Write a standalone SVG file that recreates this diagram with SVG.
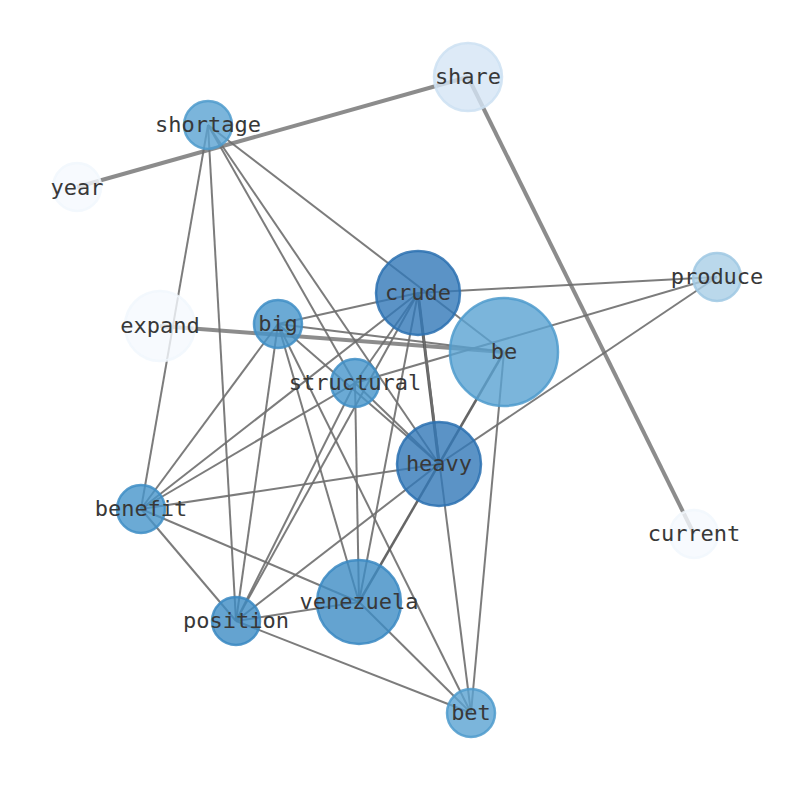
<svg xmlns="http://www.w3.org/2000/svg" width="794" height="790" viewBox="0 0 794 790">
<style>
.e{stroke:#6e6e6e;stroke-width:2;stroke-opacity:0.9;fill:none}
.t{stroke:#808080;stroke-width:4}
.d{stroke:#505050;stroke-width:3}
.m{stroke:#555555;stroke-width:2.5}
.n{stroke-width:2.5;fill-opacity:0.8;stroke-opacity:0.85}
.c1{fill:#3278b8;stroke:#2a70b0}
.c2{fill:#3d8cc4;stroke:#3a88c2}
.c3{fill:#4695ca;stroke:#3f8ec6}
.c4{fill:#5aa3d2;stroke:#4f9bcd}
.c5{fill:#a9cee6;stroke:#9fc8e3}
.c6{fill:#d4e5f5;stroke:#cde0f2}
.c7{fill:#f5f9fe;stroke:#f1f7fd}
text{font-family:"DejaVu Sans Mono","Liberation Mono",monospace;font-size:22px;fill:#383838;text-anchor:middle;dominant-baseline:central}
</style>
<rect width="794" height="790" fill="#fff"/>
<g id="edges">
<line class="e t" x1="77" y1="187" x2="468" y2="77"/>
<line class="e t" x1="468" y1="77" x2="694" y2="534"/>
<line class="e t" x1="160" y1="326" x2="504" y2="352"/>
<line class="e" x1="208" y1="125" x2="141" y2="509"/>
<line class="e" x1="208" y1="125" x2="236" y2="621"/>
<line class="e" x1="208" y1="125" x2="355" y2="383"/>
<line class="e" x1="208" y1="125" x2="439" y2="464"/>
<line class="e" x1="208" y1="125" x2="504" y2="352"/>
<line class="e" x1="278" y1="324" x2="418" y2="293"/>
<line class="e" x1="278" y1="324" x2="504" y2="352"/>
<line class="e" x1="278" y1="324" x2="141" y2="509"/>
<line class="e" x1="278" y1="324" x2="236" y2="621"/>
<line class="e" x1="278" y1="324" x2="359" y2="602"/>
<line class="e" x1="278" y1="324" x2="471" y2="713"/>
<line class="e" x1="278" y1="324" x2="439" y2="464"/>
<line class="e" x1="418" y1="293" x2="717" y2="277"/>
<line class="e d" x1="418" y1="293" x2="439" y2="464"/>
<line class="e" x1="418" y1="293" x2="471" y2="713"/>
<line class="e" x1="418" y1="293" x2="141" y2="509"/>
<line class="e" x1="418" y1="293" x2="355" y2="383"/>
<line class="e" x1="418" y1="293" x2="236" y2="621"/>
<line class="e" x1="418" y1="293" x2="359" y2="602"/>
<line class="e" x1="355" y1="383" x2="717" y2="277"/>
<line class="e" x1="355" y1="383" x2="141" y2="509"/>
<line class="e" x1="355" y1="383" x2="236" y2="621"/>
<line class="e" x1="355" y1="383" x2="359" y2="602"/>
<line class="e" x1="355" y1="383" x2="439" y2="464"/>
<line class="e m" x1="439" y1="464" x2="504" y2="352"/>
<line class="e" x1="439" y1="464" x2="717" y2="277"/>
<line class="e" x1="439" y1="464" x2="141" y2="509"/>
<line class="e m" x1="439" y1="464" x2="359" y2="602"/>
<line class="e" x1="439" y1="464" x2="236" y2="621"/>
<line class="e" x1="504" y1="352" x2="471" y2="713"/>
<line class="e" x1="141" y1="509" x2="236" y2="621"/>
<line class="e" x1="141" y1="509" x2="359" y2="602"/>
<line class="e" x1="359" y1="602" x2="236" y2="621"/>
<line class="e" x1="359" y1="602" x2="471" y2="713"/>
<line class="e" x1="236" y1="621" x2="471" y2="713"/>
</g>
<g id="share"><circle class="n c6" cx="468" cy="77" r="34"/><text x="468" y="76">share</text></g>
<g id="shortage"><circle class="n c4" cx="208" cy="125" r="24"/><text x="208" y="124">shortage</text></g>
<g id="year"><circle class="n c7" cx="77" cy="187" r="24"/><text x="77" y="187">year</text></g>
<g id="crude"><circle class="n c1" cx="418" cy="293" r="42"/><text x="418" y="292">crude</text></g>
<g id="produce"><circle class="n c5" cx="717" cy="277" r="24"/><text x="717" y="276">produce</text></g>
<g id="expand"><circle class="n c7" cx="160" cy="326" r="35"/><text x="160" y="325">expand</text></g>
<g id="big"><circle class="n c3" cx="278" cy="324" r="24"/><text x="278" y="323">big</text></g>
<g id="be"><circle class="n c4" cx="504" cy="352" r="54"/><text x="504" y="351">be</text></g>
<g id="structural"><circle class="n c3" cx="355" cy="383" r="24"/><text x="355" y="382">structural</text></g>
<g id="heavy"><circle class="n c1" cx="439" cy="464" r="42"/><text x="439" y="463">heavy</text></g>
<g id="benefit"><circle class="n c3" cx="141" cy="509" r="24"/><text x="141" y="508">benefit</text></g>
<g id="current"><circle class="n c7" cx="694" cy="534" r="24"/><text x="694" y="533">current</text></g>
<g id="venezuela"><circle class="n c2" cx="359" cy="602" r="42"/><text x="359" y="601">venezuela</text></g>
<g id="position"><circle class="n c2" cx="236" cy="621" r="24"/><text x="236" y="620">position</text></g>
<g id="bet"><circle class="n c4" cx="471" cy="713" r="24"/><text x="471" y="712">bet</text></g>
</svg>
